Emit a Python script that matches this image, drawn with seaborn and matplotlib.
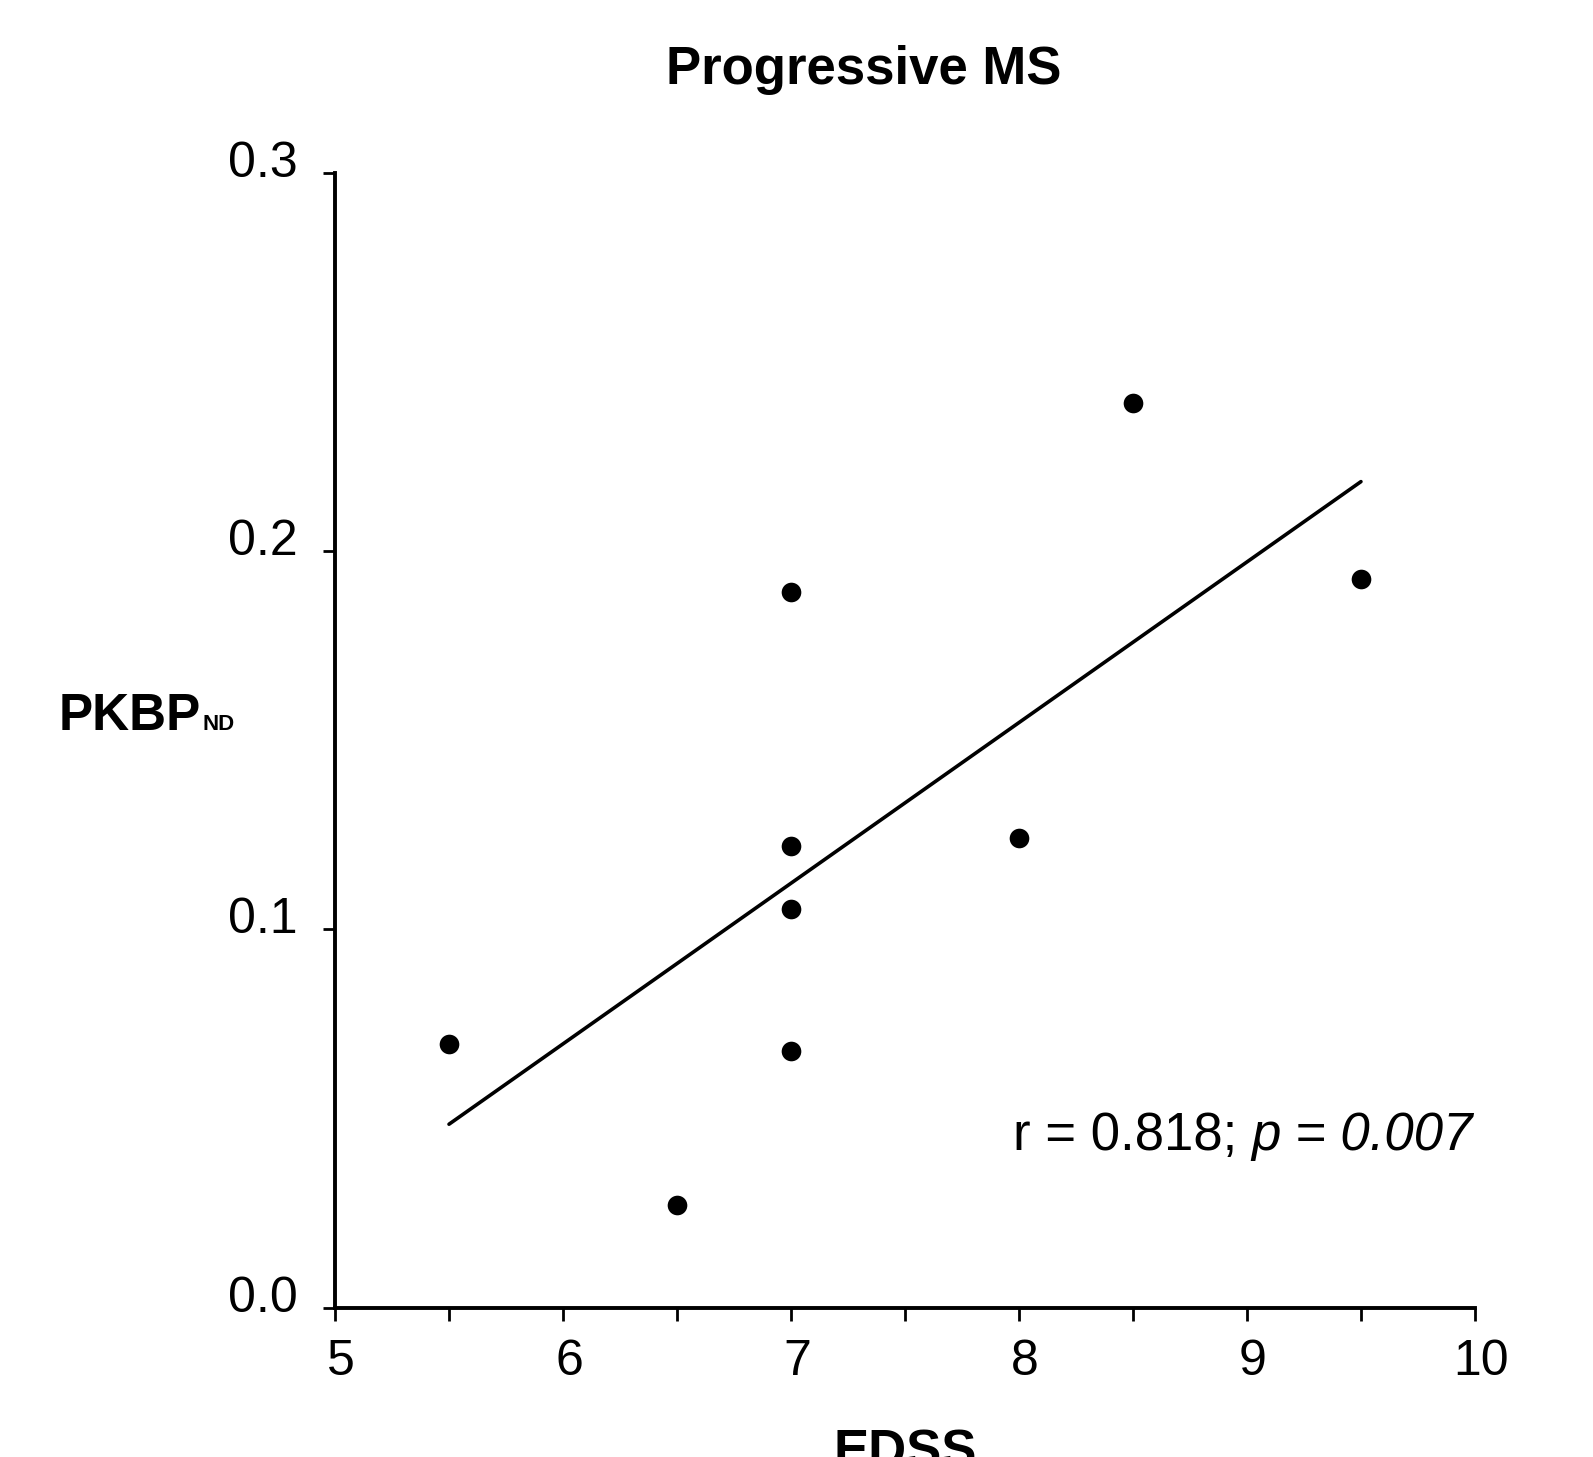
import numpy as np
import matplotlib
matplotlib.use("Agg")
import matplotlib.pyplot as plt
from matplotlib.transforms import ScaledTranslation
import seaborn as sns

# values
edss = [5.5, 6.5, 7.0, 7.0, 7.0, 7.0, 8.0, 8.5, 9.5]
pkbp = [0.0698, 0.0271, 0.1893, 0.1219, 0.1053, 0.0677, 0.1241, 0.2393, 0.1926]
x_ticks = [5, 6, 7, 8, 9, 10]
y_ticks = [0.0, 0.1, 0.2, 0.3]
y_tick_labels = ["0.0", "0.1", "0.2", "0.3"]

sns.set_style("ticks", {"axes.edgecolor": "black", "text.color": "black",
                        "xtick.color": "black", "ytick.color": "black"})
plt.rcParams["font.family"] = ["Liberation Sans", "DejaVu Sans"]

fig = plt.figure(figsize=(15.93, 14.57), dpi=100)
ax = fig.add_axes([0.2103, 0.1026, 0.7156, 0.7787])

sns.regplot(x=edss, y=pkbp, ci=None, truncate=True, ax=ax, color="black",
            scatter_kws={"s": 200, "linewidths": 0, "zorder": 3, "alpha": 1},
            line_kws={"linewidth": 2.6})

ax.set_xlim(5, 10)
ax.set_ylim(0, 0.3)
ax.set_xticks(x_ticks)
ax.set_xticks([5.5, 6.5, 7.5, 8.5, 9.5], minor=True)
ax.set_yticks(y_ticks)
ax.set_yticklabels(y_tick_labels)
sns.despine(ax=ax)
for s in ["left", "bottom"]:
    ax.spines[s].set_linewidth(2.8)
ax.tick_params(axis="both", which="both", length=9, width=2, color="black",
               labelsize=36, labelcolor="black")
ax.tick_params(axis="y", pad=18)
ax.tick_params(axis="x", pad=14)
for lab in ax.get_yticklabels():
    lab.set_transform(lab.get_transform() + ScaledTranslation(0, 0.14, fig.dpi_scale_trans))
for lab in ax.get_xticklabels():
    lab.set_transform(lab.get_transform() + ScaledTranslation(0.06, 0, fig.dpi_scale_trans))

# title, axis labels
fig.text(864 / 1593, 1 - 84 / 1457, "Progressive MS", ha="center", va="baseline",
         fontsize=38, fontweight="bold", color="black")
fig.text(59 / 1593, 1 - 730 / 1457, "PKBP", ha="left", va="baseline",
         fontsize=37, fontweight="bold", color="black")
fig.text(203 / 1593, 1 - 730 / 1457, "ND", ha="left", va="baseline",
         fontsize=16, fontweight="bold", color="black")
fig.text(905 / 1593, 1 - 1468 / 1457, "EDSS", ha="center", va="baseline",
         fontsize=38, fontweight="bold", color="black")

# correlation annotation
fig.text(1013 / 1593, 1 - 1150 / 1457, "r = 0.818;", ha="left", va="baseline",
         fontsize=38, color="black")
fig.text(1473 / 1593, 1 - 1150 / 1457, "p = 0.007", ha="right", va="baseline",
         fontsize=38, fontstyle="italic", color="black")

fig.savefig("out.png", dpi=100)
